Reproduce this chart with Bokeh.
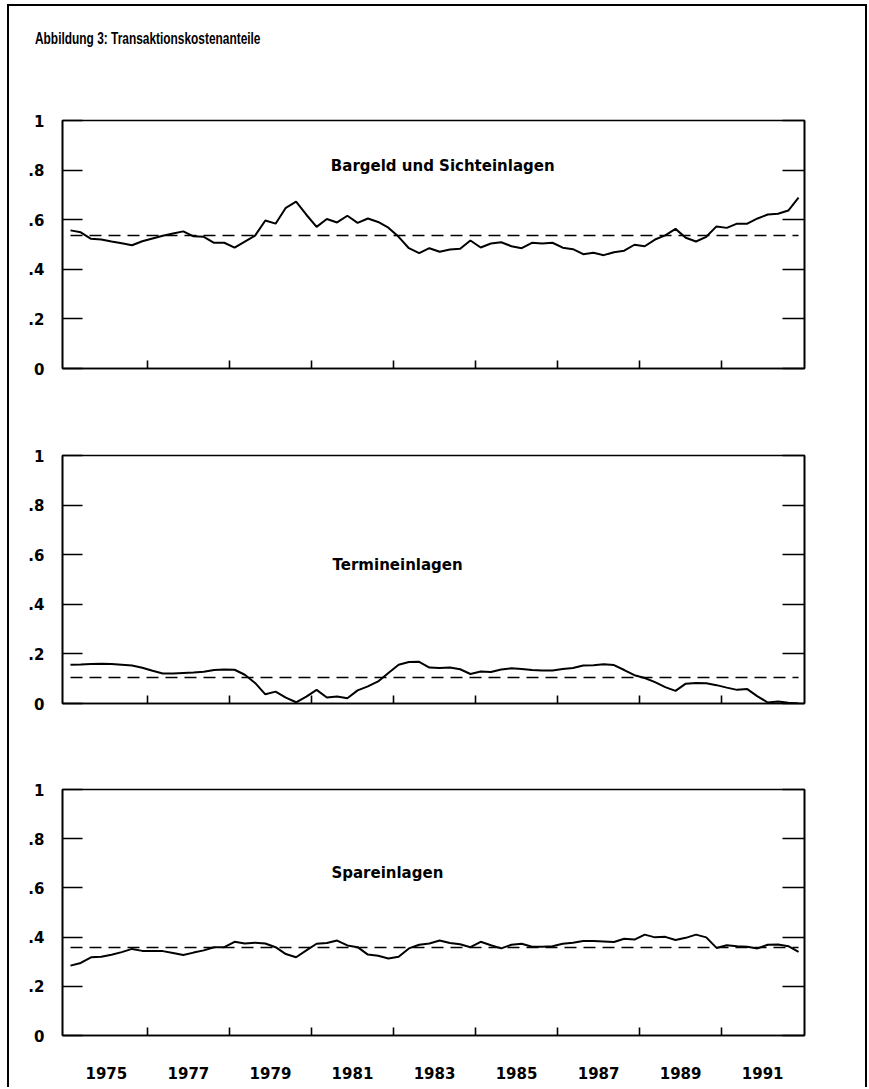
import numpy as np
from bokeh.plotting import figure
from bokeh.models import Range1d, LinearAxis, FixedTicker, Label, Div
from bokeh.layouts import column, row
from bokeh.embed import file_html
from bokeh.resources import INLINE

# ---------------- data (quarterly, 1974 Q1 - 1991 Q4) ----------------
start_year = 1974
bargeld = [0.557, 0.549, 0.523, 0.520, 0.512, 0.505, 0.497, 0.513, 0.524, 0.535,
           0.544, 0.553, 0.533, 0.531, 0.507, 0.507, 0.487, 0.512, 0.536, 0.597,
           0.584, 0.648, 0.673, 0.620, 0.571, 0.603, 0.589, 0.616, 0.587, 0.605,
           0.591, 0.568, 0.531, 0.485, 0.465, 0.485, 0.471, 0.480, 0.483, 0.516,
           0.488, 0.504, 0.509, 0.493, 0.485, 0.507, 0.504, 0.507, 0.487, 0.481,
           0.461, 0.467, 0.457, 0.469, 0.475, 0.499, 0.493, 0.520, 0.537, 0.563,
           0.527, 0.512, 0.531, 0.573, 0.567, 0.584, 0.584, 0.605, 0.621, 0.624,
           0.637, 0.689]
termin = [0.156, 0.157, 0.159, 0.160, 0.159, 0.156, 0.153, 0.144, 0.132, 0.121,
          0.121, 0.123, 0.125, 0.128, 0.135, 0.137, 0.136, 0.116, 0.083, 0.037,
          0.048, 0.024, 0.005, 0.028, 0.055, 0.024, 0.028, 0.021, 0.053, 0.069,
          0.089, 0.123, 0.156, 0.167, 0.168, 0.145, 0.143, 0.145, 0.138, 0.119,
          0.129, 0.127, 0.137, 0.142, 0.139, 0.135, 0.133, 0.133, 0.139, 0.143,
          0.153, 0.154, 0.158, 0.155, 0.135, 0.114, 0.103, 0.086, 0.066, 0.051,
          0.080, 0.083, 0.082, 0.074, 0.064, 0.055, 0.058, 0.029, 0.004, 0.008,
          0.003, 0.000]
spar = [0.284, 0.295, 0.318, 0.320, 0.328, 0.339, 0.352, 0.344, 0.344, 0.343,
        0.335, 0.327, 0.337, 0.346, 0.359, 0.359, 0.381, 0.374, 0.377, 0.374,
        0.359, 0.331, 0.318, 0.346, 0.373, 0.376, 0.386, 0.366, 0.359, 0.329,
        0.324, 0.313, 0.320, 0.354, 0.369, 0.374, 0.386, 0.376, 0.371, 0.359,
        0.381, 0.367, 0.354, 0.369, 0.373, 0.361, 0.361, 0.363, 0.373, 0.377,
        0.384, 0.384, 0.382, 0.380, 0.393, 0.390, 0.410, 0.399, 0.401, 0.388,
        0.397, 0.410, 0.399, 0.356, 0.367, 0.363, 0.361, 0.354, 0.369, 0.370,
        0.363, 0.340]
means = [0.536, 0.105, 0.358]
panel_titles = ["Bargeld und Sichteinlagen", "Termineinlagen", "Spareinlagen"]
title_text = "Abbildung 3: Transaktionskostenanteile"
year_labels = [1975, 1977, 1979, 1981, 1983, 1985, 1987, 1989, 1991]
minor_years = [1976, 1978, 1980, 1982, 1984, 1986, 1988, 1990]
y_ticks = [0, 0.2, 0.4, 0.6, 0.8, 1]
y_tick_labels = ["0", ".2", ".4", ".6", ".8", "1"]

FONT = "DejaVu Sans"
X0, X1 = 1973.93, 1992.02
FIG_W = 856


def make_panel(values, mean, label, label_xy, frame_h, top, bottom, show_years):
    x = start_year + (np.arange(len(values)) + 0.5) / 4.0
    p = figure(width=FIG_W, height=top + frame_h + bottom,
               x_range=Range1d(X0, X1), y_range=Range1d(0, 1),
               output_backend="svg", toolbar_location=None,
               min_border_left=53, min_border_right=61,
               min_border_top=top, min_border_bottom=bottom,
               x_axis_location=None, y_axis_location=None)
    p.xgrid.visible = False
    p.ygrid.visible = False
    p.outline_line_color = "black"
    p.outline_line_width = 1.6
    p.background_fill_color = "white"
    p.border_fill_color = "white"

    # left axis
    yl = LinearAxis(ticker=FixedTicker(ticks=y_ticks),
                    major_label_overrides=dict(zip(y_ticks, y_tick_labels)))
    yl.major_tick_in = 20
    yl.major_tick_out = 0
    yl.minor_tick_in = 0
    yl.minor_tick_out = 0
    yl.major_label_standoff = 18
    yl.major_label_text_font = FONT
    yl.major_label_text_font_style = "bold"
    yl.major_label_text_font_size = "15px"
    yl.major_label_text_color = "black"
    yl.axis_line_width = 1.6
    yl.major_tick_line_width = 1.6
    p.add_layout(yl, "left")

    # right axis (ticks only)
    yr = LinearAxis(ticker=FixedTicker(ticks=y_ticks),
                    major_label_overrides={t: "" for t in y_ticks})
    yr.major_tick_in = 22
    yr.major_tick_out = 0
    yr.minor_tick_in = 0
    yr.minor_tick_out = 0
    yr.axis_line_width = 1.6
    yr.major_tick_line_width = 1.6
    p.add_layout(yr, "right")

    # bottom axis: labels at odd years, inner ticks at even years
    xb = LinearAxis(ticker=FixedTicker(ticks=year_labels, minor_ticks=minor_years))
    xb.major_tick_in = 0
    xb.major_tick_out = 0
    xb.minor_tick_in = 8
    xb.minor_tick_out = 0
    xb.minor_tick_line_width = 1.6
    xb.minor_tick_line_color = "black"
    xb.axis_line_width = 1.6
    xb.major_label_standoff = 31
    xb.major_label_text_font = FONT
    xb.major_label_text_font_style = "bold"
    xb.major_label_text_font_size = "15px"
    xb.major_label_text_color = "black"
    if show_years:
        xb.major_label_overrides = {y: str(y) for y in year_labels}
    else:
        xb.major_label_overrides = {y: "" for y in year_labels}
    p.add_layout(xb, "below")

    # series and mean
    p.line(x, values, line_color="black", line_width=2)
    p.line([x[0], x[-1]], [mean, mean], line_color="black", line_width=1.6,
           line_dash="12 7")

    p.add_layout(Label(x=label_xy[0], y=label_xy[1], text=label,
                       text_align="center", text_baseline="middle",
                       text_font=FONT, text_font_style="bold",
                       text_font_size="15px", text_color="black"))
    return p


title_div = Div(
    text=('<div style="padding:23px 0 0 26px; font-family:\'Liberation Sans\', Arial, sans-serif; '
          'font-weight:bold; font-size:17px; line-height:19px; color:black; white-space:nowrap;">'
          '<span style="display:inline-block; transform:scaleX(0.70); transform-origin:0 50%;">'
          + title_text + '</span></div>'),
    width=FIG_W, height=60, margin=0)

p1 = make_panel(bargeld, means[0], panel_titles[0], (1983.2, 0.818), 248, 54, 40, False)
p2 = make_panel(termin, means[1], panel_titles[1], (1982.1, 0.56), 248, 47, 40, False)
p3 = make_panel(spar, means[2], panel_titles[2], (1981.85, 0.66), 246, 46, 52, True)

inner_h = title_div.height + p1.height + p2.height + p3.height
bar_style = {"background-color": "black"}
top_space = Div(text="", width=860, height=4, margin=0)
left_space = Div(text="", width=7, height=inner_h + 6, margin=0)
top_bar = Div(text="", width=860, height=2, margin=0, styles=bar_style)
left_bar = Div(text="", width=2, height=inner_h, margin=0, styles=bar_style)
right_bar = Div(text="", width=2, height=inner_h, margin=0, styles=bar_style)

inner = column(title_div, p1, p2, p3, spacing=0)
boxed = column(top_space, top_bar, row(left_bar, inner, right_bar, spacing=0), spacing=0)
layout = row(left_space, boxed, spacing=0)

open("out.html", "w").write(file_html(layout, INLINE))
